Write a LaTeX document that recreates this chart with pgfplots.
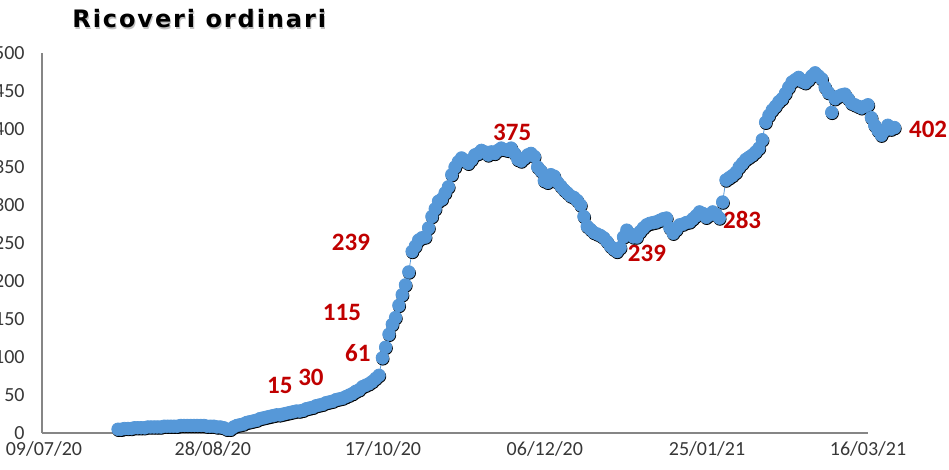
\documentclass[border=0pt]{standalone}
\usepackage{pgfplots}
\usepackage{pgfplotstable}
\pgfplotsset{compat=1.18}
\usepackage{fontspec}
\setmainfont{Carlito}
\newfontfamily\titlefont[LetterSpace=8]{DejaVu Sans}
\definecolor{ptblue}{RGB}{86,152,216}
\definecolor{lblred}{RGB}{192,0,0}
\definecolor{axgray}{RGB}{134,134,134}
\definecolor{tickgray}{RGB}{55,55,55}
\pgfplotstableread{
day val
23 5
24 5
25 6
26 6
27 6
28 7
29 7
30 7
31 7
32 8
33 8
34 8
35 8
36 8
37 9
38 9
39 9
40 9
41 9
42 10
43 10
44 10
45 10
46 10
47 10
48 10
49 10
50 9
51 9
52 9
53 8
54 8
55 7
56 5
57 5
58 8
59 10
60 11
61 12
62 14
63 15
64 16
65 17
66 19
67 20
68 21
69 22
70 23
71 24
72 24
73 25
74 26
75 27
76 28
77 29
78 29
79 30
80 32
81 33
82 34
83 36
84 37
85 38
86 40
87 41
88 42
89 44
90 45
91 46
92 48
93 50
94 52
95 55
96 57
97 61
98 63
99 65
100 68
101 72
102 76
103 99
104 113
105 130
106 143
107 152
108 168
109 182
110 195
111 212
112 239
113 246
114 254
115 257
116 258
117 270
118 285
119 295
120 305
121 308
122 316
123 324
124 340
125 350
126 357
127 362
128 358
129 355
130 360
131 366
132 368
133 372
134 370
135 366
136 370
137 368
138 372
139 375
140 373
141 372
142 375
143 368
144 360
145 358
146 362
147 366
148 368
149 364
150 350
151 345
152 332
153 330
154 340
155 338
156 330
157 325
158 320
159 316
160 312
161 310
162 306
163 300
164 285
165 272
166 268
167 264
168 262
169 260
170 257
171 252
172 246
173 242
174 239
175 244
176 258
177 267
178 262
179 258
180 258
181 265
182 270
183 274
184 276
185 277
186 278
187 280
188 282
189 283
190 270
191 263
192 268
193 274
194 275
195 277
196 278
197 282
198 286
199 291
200 289
201 284
202 287
203 291
204 288
205 283
206 304
207 333
208 336
209 339
210 343
211 350
212 355
213 360
214 363
215 366
216 370
217 375
218 386
219 409
220 418
221 425
222 430
223 436
224 440
225 447
226 455
227 462
228 465
229 468
230 463
231 461
232 465
233 470
234 474
235 470
236 466
237 455
238 448
239 422
240 440
241 443
242 445
243 446
244 440
245 434
246 432
247 430
248 428
249 430
250 432
251 415
252 405
253 398
254 392
255 398
256 405
257 400
258 402
}\ricoveri
\begin{document}
\begin{tikzpicture}
\begin{axis}[
  at={(0,0)}, anchor=south west,
  scale only axis, width=413pt, height=190pt,
  xmin=0, xmax=250, ymin=0, ymax=500,
  clip=false,
  axis x line=bottom, axis y line=left,
  axis line style={-, draw=axgray, line width=0.6pt},
  major tick length=0pt,
  ytick={0,50,...,500},
  xtick={0.6,51.7,103.2,152.2,201.3,250},
  xticklabels={09/07/20,28/08/20,17/10/20,06/12/20,25/01/21,16/03/21},
  /pgf/number format/assume math mode=true,
  tick label style={font=\fontsize{10}{11}\selectfont, text=tickgray},
  yticklabel style={anchor=east, inner sep=0pt, xshift=-8.5pt},
  xticklabel style={anchor=north, inner sep=0pt, yshift=-4pt},
]
\addplot[only marks, mark=*, mark size=3.1pt,
  mark options={draw=none, fill=ptblue!80!black, xshift=0.3pt, yshift=-0.6pt}]
  table[x=day, y=val] {\ricoveri};
\addplot[ptblue, line width=0.4pt, mark=*, mark size=3.1pt,
  mark options={draw=none, fill=ptblue}]
  table[x=day, y=val] {\ricoveri};
\begin{scope}[every node/.style={text=lblred, font=\fontsize{12.5}{13}\selectfont\bfseries, inner sep=0pt}]
\node at (axis cs:72.0,63) {15};
\node at (axis cs:81.4,73.5) {30};
\node at (axis cs:95.6,105) {61};
\node at (axis cs:90.8,159) {115};
\node at (axis cs:93.5,251) {239};
\node at (axis cs:142.3,396) {375};
\node at (axis cs:183.1,236) {239};
\node at (axis cs:211.9,280) {283};
\node at (axis cs:268.2,399) {402};
\end{scope}
\end{axis}
\node[anchor=base west, inner sep=0pt, text=black!35, opacity=0.7, font=\titlefont\bfseries\fontsize{12}{13}\selectfont] at (15.5pt,201.6pt) {Ricoveri ordinari};
\node[anchor=base west, inner sep=0pt, text=black, font=\titlefont\bfseries\fontsize{12}{13}\selectfont] at (15pt,202.5pt) {Ricoveri ordinari};
\pgfresetboundingbox
\path[use as bounding box] (-21pt,-18.5pt) rectangle (453.5pt,216.5pt);
\end{tikzpicture}
\end{document}
